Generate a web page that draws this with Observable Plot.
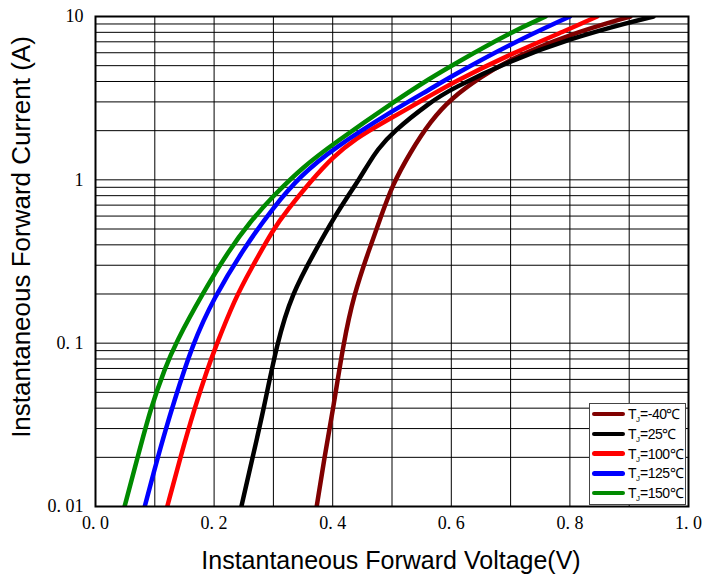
<!DOCTYPE html>
<html><head><meta charset="utf-8">
<script src="https://cdn.jsdelivr.net/npm/d3@7"></script>
<script src="https://cdn.jsdelivr.net/npm/@observablehq/plot@0.6"></script>
<style>
body{margin:0;background:#fff}
#wrap{position:relative;width:705px;height:574px;overflow:hidden}
.title{position:absolute;font-family:"Liberation Sans",Arial,sans-serif;color:#000;white-space:nowrap}
#legend{position:absolute;left:589px;top:403px;width:97px;height:102px;background:#fff;border:1px solid #444;box-sizing:border-box;font-family:"Liberation Sans",Arial,sans-serif;font-size:14px;letter-spacing:-0.5px}
.row{position:absolute;left:0;height:18px;display:flex;align-items:center}
.sw{width:33px;height:4.5px;border-radius:3px;margin-left:2px;margin-right:3px}
.lab{line-height:14px}
.lab sub{font-size:8px;vertical-align:-3px;line-height:0;letter-spacing:0}
</style>
</head><body><div id="wrap"></div>
<script>
// Series: forward voltage (V) and forward current (A)
const vM40 = [0.373, 0.386, 0.401, 0.418, 0.436, 0.461, 0.481, 0.500, 0.531, 0.565, 0.600, 0.650, 0.700, 0.800, 0.902];
const iM40 = [0.01, 0.02, 0.04, 0.1, 0.2, 0.37, 0.59, 0.92, 1.48, 2.29, 3.16, 4.27, 5.5, 7.8, 10];
const v25 = [0.246, 0.265, 0.284, 0.306, 0.331, 0.371, 0.401, 0.430, 0.444, 0.460, 0.475, 0.500, 0.565, 0.600, 0.700, 0.800, 0.900, 0.941];
const i25 = [0.01, 0.02, 0.04, 0.1, 0.2, 0.37, 0.577, 0.84, 1.0, 1.25, 1.52, 1.95, 3.0, 3.6, 5.38, 7.3, 9.2, 10];
const v100 = [0.121, 0.143, 0.168, 0.188, 0.200, 0.236, 0.261, 0.300, 0.323, 0.363, 0.400, 0.440, 0.481, 0.565, 0.600, 0.700, 0.800, 0.846];
const i100 = [0.01, 0.02, 0.041, 0.068, 0.09, 0.19, 0.279, 0.5, 0.65, 0.98, 1.38, 1.8, 2.2, 3.28, 3.9, 5.9, 8.4, 10];
const v125 = [0.083, 0.105, 0.119, 0.129, 0.164, 0.200, 0.250, 0.300, 0.346, 0.400, 0.506, 0.565, 0.600, 0.700, 0.800];
const i125 = [0.01, 0.02, 0.03, 0.04, 0.1, 0.19, 0.38, 0.68, 1.06, 1.55, 2.72, 3.6, 4.3, 6.8, 10];
const v150 = [0.049, 0.071, 0.093, 0.117, 0.135, 0.180, 0.225, 0.260, 0.300, 0.350, 0.400, 0.506, 0.565, 0.600, 0.700, 0.759];
const i150 = [0.01, 0.02, 0.04, 0.07, 0.1, 0.2, 0.37, 0.55, 0.8, 1.2, 1.65, 3.06, 4.2, 5.0, 8.0, 10];

const seriesTemps = ["-40℃", "25℃", "100℃", "125℃", "150℃"];
const seriesColors = ["#800000", "#000000", "#ff0000", "#0000ff", "#008a00"];
const seriesV = [vM40, v25, v100, v125, v150];
const seriesI = [iM40, i25, i100, i125, i150];

const xTicks = [0, 0.2, 0.4, 0.6, 0.8, 1.0];
const xTickLabels = ["0. 0", "0. 2", "0. 4", "0. 6", "0. 8", "1. 0"];
const yTicks = [0.01, 0.1, 1, 10];
const yTickLabels = ["0. 01", "0. 1", "1", "10"];
const xGrid = [0.1, 0.2, 0.3, 0.4, 0.5, 0.6, 0.7, 0.8, 0.9];
const yGrid = [0.02, 0.03, 0.04, 0.05, 0.06, 0.07, 0.08, 0.09, 0.1,
               0.2, 0.3, 0.4, 0.5, 0.6, 0.7, 0.8, 0.9, 1,
               2, 3, 4, 5, 6, 7, 8, 9];
const xTitle = "Instantaneous Forward Voltage(V)";
const yTitle = "Instantaneous Forward Current (A)";

const rows = [];
seriesTemps.forEach((t, k) => seriesV[k].forEach((v, j) => rows.push({V: v, I: seriesI[k][j], T: t})));

const chart = Plot.plot({
  width: 705, height: 574,
  marginLeft: 95, marginRight: 17, marginTop: 16, marginBottom: 68,
  x: {domain: [0, 1]},
  y: {type: "log", domain: [0.01, 10]},
  color: {domain: seriesTemps, range: seriesColors},
  style: {fontFamily: "'Liberation Serif', serif", fontSize: "18px", color: "#000", background: "#fff"},
  marks: [
    Plot.ruleX(xGrid, {stroke: "#000", strokeWidth: 1}),
    Plot.ruleY(yGrid, {stroke: "#000", strokeWidth: 1}),
    Plot.line(rows, {x: "V", y: "I", z: "T", stroke: "T", strokeWidth: 4.5, curve: "basis", clip: true}),
    Plot.frame({stroke: "#000", strokeWidth: 2}),
    Plot.axisX({ticks: xTicks, tickFormat: d => xTickLabels[xTicks.indexOf(d)], tickSize: 0, tickPadding: 10, label: null}),
    Plot.axisY({ticks: yTicks, tickFormat: d => yTickLabels[yTicks.indexOf(d)], tickSize: 0, tickPadding: 12, label: null})
  ]
});
const wrap = document.getElementById("wrap");
wrap.appendChild(chart);

const xt = document.createElement("div");
xt.className = "title"; xt.textContent = xTitle;
xt.style.fontSize = "25px";
xt.style.left = "391px"; xt.style.top = "560px";
xt.style.transform = "translate(-50%,-50%)";
wrap.appendChild(xt);

const yt = document.createElement("div");
yt.className = "title"; yt.textContent = yTitle;
yt.style.fontSize = "26px";
yt.style.left = "21px"; yt.style.top = "237px";
yt.style.transform = "translate(-50%,-50%) rotate(-90deg)";
wrap.appendChild(yt);

const leg = document.createElement("div");
leg.id = "legend";
seriesTemps.forEach((t, k) => {
  const r = document.createElement("div");
  r.className = "row";
  r.style.top = (1 + k * 19.75) + "px";
  const sw = document.createElement("div");
  sw.className = "sw"; sw.style.background = seriesColors[k];
  const lb = document.createElement("span");
  lb.className = "lab";
  lb.innerHTML = "T<sub>J</sub>=" + t;
  r.appendChild(sw); r.appendChild(lb);
  leg.appendChild(r);
});
wrap.appendChild(leg);
</script>
</body></html>
